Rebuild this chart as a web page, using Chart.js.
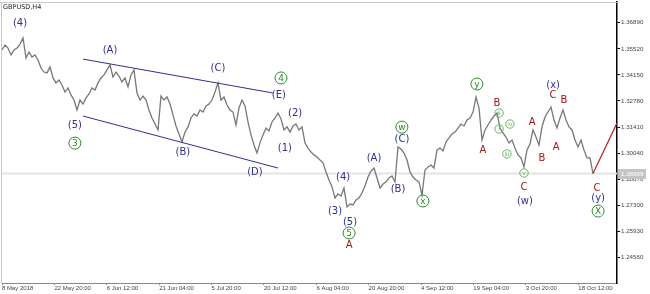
<!DOCTYPE html>
<html lang="en">
<head>
<meta charset="UTF-8">
<title>GBPUSD,H4</title>
<script src="https://cdn.jsdelivr.net/npm/chart.js"></script>
<style>
  html, body { margin: 0; padding: 0; background: #fff; }
  canvas { display: block; }
</style>
</head>
<body>
<canvas id="myChart" width="650" height="294"></canvas>
<script>
// H4 closes, one value per step on the x index
const closes = [
  1.3546, 1.3572, 1.3556, 1.3520, 1.3546, 1.3556, 1.3577, 1.3609, 1.3504, 1.3535,
  1.3509, 1.3520, 1.3493, 1.3451, 1.3430, 1.3425, 1.3457, 1.3399, 1.3373, 1.3388,
  1.3362, 1.3325, 1.3346, 1.3310, 1.3283, 1.3231, 1.3283, 1.3262, 1.3294, 1.3315,
  1.3346, 1.3336, 1.3373, 1.3399, 1.3415, 1.3441, 1.3467, 1.3404, 1.3430, 1.3409,
  1.3378, 1.3399, 1.3352, 1.3415, 1.3441, 1.3320, 1.3283, 1.3304, 1.3283, 1.3231,
  1.3189, 1.3157, 1.3126, 1.3304, 1.3283, 1.3299, 1.3262, 1.3205, 1.3147, 1.3105,
  1.3063, 1.3115, 1.3142, 1.3189, 1.3210, 1.3199, 1.3231, 1.3220, 1.3252, 1.3262,
  1.3283, 1.3325, 1.3373, 1.3283, 1.3299, 1.3257, 1.3231, 1.3220, 1.3152, 1.3241,
  1.3283, 1.3252, 1.3168, 1.3100, 1.3047, 1.3005, 1.3058, 1.3100, 1.3136, 1.3121,
  1.3168, 1.3189, 1.3215, 1.3184, 1.3126, 1.3142, 1.3115, 1.3147, 1.3157, 1.3126,
  1.3142, 1.3058, 1.3031, 1.3010, 1.2995, 1.2984, 1.2968, 1.2953, 1.2905, 1.2863,
  1.2827, 1.2769, 1.2790, 1.2779, 1.2821, 1.2722, 1.2737, 1.2732, 1.2758, 1.2769,
  1.2795, 1.2832, 1.2879, 1.2910, 1.2926, 1.2874, 1.2821, 1.2842, 1.2853, 1.2874,
  1.2884, 1.2853, 1.3037, 1.3026, 1.3005, 1.2968, 1.2905, 1.2879, 1.2863, 1.2853,
  1.2784, 1.2916, 1.2932, 1.2942, 1.2926, 1.3021, 1.3031, 1.3016, 1.3063, 1.3084,
  1.3105, 1.3115, 1.3136, 1.3157, 1.3147, 1.3178, 1.3189, 1.3220, 1.3299, 1.3241,
  1.3073, 1.3126, 1.3152, 1.3178, 1.3199, 1.3215, 1.3136, 1.3110, 1.3089, 1.3058,
  1.3073, 1.3031, 1.2995, 1.2979, 1.2932, 1.3021, 1.3052, 1.3126, 1.3089, 1.3047,
  1.3142, 1.3194, 1.3220, 1.3246, 1.3178, 1.3136, 1.3189, 1.3231, 1.3178, 1.3142,
  1.3126, 1.3073, 1.3037, 1.3073, 1.3021, 1.2979, 1.2979, 1.2897
];

const xTickPos = [0, 17.5, 34.9, 52.4, 69.8, 87.3, 104.8, 122.2, 139.7, 157.1, 174.6, 192.1];
const xTickLabels = ['8 May 2018', '22 May 20:00', '6 Jun 12:00', '21 Jun 04:00', '5 Jul 20:00',
  '20 Jul 12:00', '6 Aug 04:00', '20 Aug 20:00', '4 Sep 12:00', '19 Sep 04:00', '3 Oct 20:00', '18 Oct 12:00'];
const yTickVals = [1.24560, 1.25930, 1.27300, 1.28670, 1.30040, 1.31410, 1.32780, 1.34150, 1.35520, 1.36890];

const lastPrice = 1.28969;
const projX = [197, 205];
const projY = [1.2897, 1.3162];
const upperX = [27, 90.3], upperY = [1.3498, 1.3320];
const lowerX = [27, 92], lowerY = [1.3199, 1.2926];

// wave marks: text, x index, price, kind (n = navy, r = red, g = green circle, s = small circle)
const waves = [
  ['(4)', 6, 1.3687, 'n'], ['(A)', 36, 1.3546, 'n'], ['(5)', 24.3, 1.3152, 'n'], ['3', 24.3, 1.3057, 'g'],
  ['(B)', 60.3, 1.3010, 'n'], ['(C)', 72, 1.3451, 'n'], ['4', 93, 1.3399, 'g'], ['(E)', 92.3, 1.3309, 'n'],
  ['(D)', 84.3, 1.2905, 'n'], ['(2)', 97.7, 1.3215, 'n'], ['(1)', 94.3, 1.3031, 'n'],
  ['(3)', 111, 1.2700, 'n'], ['(4)', 113.7, 1.2879, 'n'], ['(5)', 116, 1.2643, 'n'], ['5', 115.7, 1.2585, 'g'],
  ['A', 115.7, 1.2522, 'r'], ['(A)', 124, 1.2979, 'n'], ['(B)', 132, 1.2816, 'n'], ['(C)', 133.3, 1.3078, 'n'],
  ['w', 133.3, 1.3141, 'g'], ['x', 140.3, 1.2753, 'g'], ['y', 158.3, 1.3367, 'g'],
  ['A', 160.3, 1.3021, 'r'], ['B', 165, 1.3267, 'r'], ['ii', 165.7, 1.3215, 's'], ['i', 165.7, 1.3131, 's'],
  ['iv', 169.3, 1.3157, 's'], ['iii', 168.3, 1.3000, 's'], ['v', 174, 1.2900, 's'],
  ['C', 174, 1.2826, 'r'], ['(w)', 174.3, 1.2753, 'n'], ['A', 176.7, 1.3168, 'r'], ['B', 180, 1.2979, 'r'],
  ['(x)', 183.7, 1.3362, 'n'], ['C', 183.7, 1.3309, 'r'], ['A', 184.7, 1.3036, 'r'], ['B', 187.3, 1.3283, 'r'],
  ['C', 198.3, 1.2821, 'r'], ['(y)', 198.7, 1.2764, 'n'], ['X', 198.7, 1.2700, 'g']
];

const NAVY = '#303090', RED = '#a31818', GREEN = '#2a8a2a', LIGHTGREEN = '#62b862';

const pts = (xs, ys) => xs.map((x, k) => ({ x: x, y: ys[k] }));

const overlay = {
  id: 'overlay',
  beforeDatasetsDraw(chart) {
    const { ctx, chartArea: a } = chart;
    ctx.save();
    ctx.strokeStyle = '#c8c8c8';
    ctx.lineWidth = 1;
    ctx.beginPath();
    ctx.moveTo(0, a.top + 0.5); ctx.lineTo(a.right, a.top + 0.5);
    ctx.moveTo(a.left - 0.5, a.top); ctx.lineTo(a.left - 0.5, a.bottom);
    ctx.stroke();
    ctx.restore();
  },
  afterDatasetsDraw(chart) {
    const { ctx } = chart;
    const xs = chart.scales.x, ys = chart.scales.y;
    ctx.save();
    ctx.textAlign = 'center';
    ctx.textBaseline = 'middle';
    waves.forEach(([t, i, p, k]) => {
      const px = xs.getPixelForValue(i), py = ys.getPixelForValue(p);
      if (k === 'n' || k === 'r') {
        ctx.fillStyle = k === 'n' ? NAVY : RED;
        ctx.font = '10px "DejaVu Sans"';
        ctx.fillText(t, px, py);
      } else {
        const big = k === 'g';
        const col = big ? GREEN : LIGHTGREEN;
        ctx.strokeStyle = col;
        ctx.lineWidth = 1;
        ctx.beginPath();
        ctx.arc(px, py, big ? 6 : 4.2, 0, Math.PI * 2);
        ctx.stroke();
        ctx.fillStyle = col;
        ctx.font = big ? '9px "DejaVu Sans"' : '6px "DejaVu Sans"';
        ctx.fillText(t, px, py + 0.5);
      }
    });
    // title
    ctx.textAlign = 'left';
    ctx.fillStyle = '#222';
    ctx.font = '6.5px "DejaVu Sans"';
    ctx.fillText('GBPUSD,H4', 3, 7);
    ctx.restore();
  },
  afterDraw(chart) {
    const { ctx, chartArea: a } = chart;
    const py = chart.scales.y.getPixelForValue(lastPrice);
    ctx.save();
    ctx.fillStyle = '#c4c4c4';
    ctx.fillRect(a.right + 1, Math.round(py) - 5, 28, 10);
    ctx.fillStyle = '#fff';
    ctx.font = '6.2px "Liberation Sans"';
    ctx.textBaseline = 'middle';
    ctx.textAlign = 'left';
    ctx.fillText(lastPrice.toFixed(5), a.right + 4, Math.round(py));
    ctx.restore();
  }
};

const ctx = document.getElementById('myChart').getContext('2d');
new Chart(ctx, {
  type: 'line',
  data: {
    datasets: [
      { data: closes.map((v, i) => ({ x: i, y: v })), borderColor: '#777', borderWidth: 1.3, order: 2 },
      { data: pts(projX, projY), borderColor: '#b52020', borderWidth: 1.2, order: 1 },
      { data: pts(upperX, upperY), borderColor: NAVY, borderWidth: 1, order: 1 },
      { data: pts(lowerX, lowerY), borderColor: NAVY, borderWidth: 1, order: 1 },
      { data: pts([0, 205], [lastPrice, lastPrice]), borderColor: '#e4e4e4', borderWidth: 2, order: 9 }
    ]
  },
  options: {
    responsive: false,
    animation: false,
    devicePixelRatio: 1,
    layout: { padding: { left: 2, top: 2, right: 0, bottom: 0 } },
    elements: { point: { radius: 0 }, line: { tension: 0 } },
    plugins: { legend: { display: false }, tooltip: { enabled: false } },
    scales: {
      x: {
        type: 'linear', min: 0, max: 205,
        afterBuildTicks: s => { s.ticks = xTickPos.map(v => ({ value: v })); },
        afterFit: s => { s.height = 11; s.paddingLeft = 0; s.paddingRight = 0; },
        grid: { drawOnChartArea: false, tickLength: 2, color: '#888' },
        border: { color: '#888' },
        ticks: {
          align: 'start', padding: 0, maxRotation: 0, autoSkip: false, color: '#444',
          font: { family: 'Liberation Sans', size: 6 },
          callback: (v, idx) => xTickLabels[idx]
        }
      },
      y: {
        type: 'linear', position: 'right', min: 1.23224, max: 1.37977,
        afterBuildTicks: s => { s.ticks = yTickVals.map(v => ({ value: v })); },
        afterFit: s => { s.width = 33; s.paddingTop = 0; s.paddingBottom = 0; },
        grid: { drawOnChartArea: false, tickLength: 3, color: '#000' },
        border: { color: '#000', width: 1.5 },
        ticks: {
          padding: 1, color: '#444',
          font: { family: 'Liberation Sans', size: 6.2 },
          callback: v => v.toFixed(5)
        }
      }
    }
  },
  plugins: [overlay]
});
</script>
</body>
</html>
